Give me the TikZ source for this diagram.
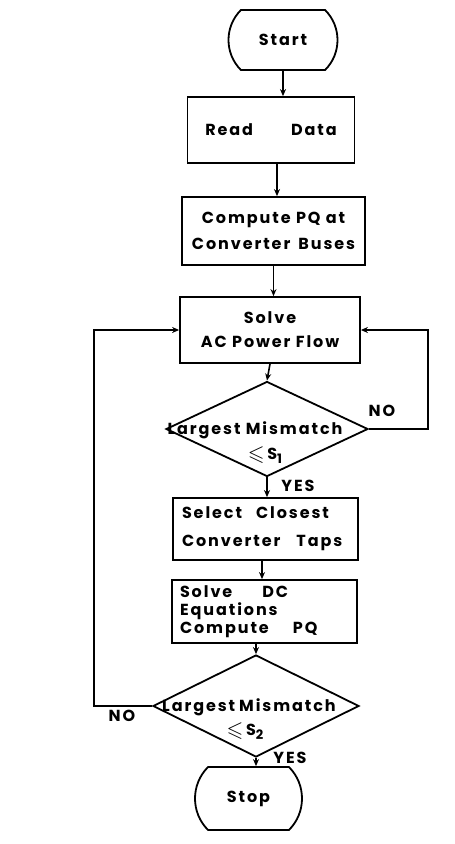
\documentclass[tikz,border=0pt]{standalone}
\usepackage{amssymb}
\usepackage{fontspec}
\setmainfont[LetterSpace=12]{Poppins}
\usetikzlibrary{shapes.geometric,shapes.misc,arrows.meta}
\newcommand{\lesym}{\raisebox{-1pt}{\scalebox{1.35}{$\leqslant$}}}
\newcommand{\subd}[1]{\raisebox{-4pt}{\fontsize{13}{13}\selectfont #1}}
\begin{document}
\begin{tikzpicture}[x=1pt,y=-1pt,
  every node/.style={font=\fontsize{16}{20}\selectfont\bfseries},
  box/.style={draw,line width=1.8pt,rectangle,inner sep=0pt},
  term/.style={draw,line width=1.8pt,rounded rectangle,rounded rectangle arc length=90,inner sep=0pt},
  dec/.style={draw,line width=1.8pt,diamond,inner sep=0pt},
  flow/.style={line width=1.6pt,-{Stealth[length=7pt,width=6pt]}},
  lbl/.style={font=\fontsize{16}{16}\selectfont\bfseries,inner sep=0.5pt}]
\useasboundingbox (0,0) rectangle (455,844);

\node[term,minimum width=109,minimum height=60] (start) at (283,40) {Start\hspace{26pt}};
\node[box,minimum width=167,minimum height=66] (read) at (271,130) {Read\hspace{38pt}Data};
\node[box,minimum width=183,minimum height=68,align=center] (comp) at (273.5,231) {Compute PQ at\\[6pt]Converter\hspace{8pt}Buses};
\node[box,minimum width=180,minimum height=66,align=center] (solve) at (270,330) {Solve\\[4pt]AC Power Flow};
\node[dec,minimum width=202,minimum height=95] (d1) at (267,429) {};
\node[lbl] (t1) at (255,430) {Largest Mismatch};
\node[lbl] (t1b) at (265,455) {\lesym\,S\subd{1}};
\node[box,minimum width=185,minimum height=62,inner xsep=9pt,text width=167pt,align=left] (sel) at (265.5,529) {Select\hspace{14pt}Closest\\[8pt]Converter\hspace{16pt}Taps};
\node[box,minimum width=185,minimum height=63,inner xsep=8pt,text width=169pt,align=left] (dc) at (264.5,611.5) {Solve\hspace{30pt}DC\\[-2pt]Equations\\[-2pt]Compute\hspace{24pt}PQ};
\node[dec,minimum width=206,minimum height=102] (d2) at (256,706) {};
\node[lbl] (t2) at (249,707) {Largest\hspace{4pt}Mismatch};
\node[lbl] (t2b) at (245,731) {\lesym\,S\subd{2}};
\node[term,minimum width=107,minimum height=63] (stop) at (248.5,798.5) {Stop};

\node[lbl] (no1) at (382,411) {NO};
\node[lbl] (yes1) at (298,486) {YES};
\node[lbl] (no2) at (122,716) {NO};
\node[lbl] (yes2) at (290,758) {YES};

\coordinate (r1) at (428,429);
\coordinate (l2) at (94,706);

\draw[flow] (start.south) -- (start.south |- read.north);
\draw[flow] ([xshift=6pt]read.south) -- ([xshift=6pt]read.south |- comp.north);
\draw[flow] (comp.south) -- (comp.south |- solve.north);
\draw[flow] (solve.south) -- (d1.north);
\draw[flow] (d1.south) -- (d1.south |- sel.north);
\draw[flow] ([xshift=-3.5pt]sel.south) -- ([xshift=-3.5pt]sel.south |- dc.north);
\draw[flow] (d2.north |- dc.south) -- (d2.north);
\draw[flow] (d2.south) -- (d2.south |- stop.north);
\draw[flow] (d1.east) -- (r1) |- (solve.east);
\draw[flow] (d2.west) -- (l2) |- (solve.west);
\end{tikzpicture}
\end{document}
